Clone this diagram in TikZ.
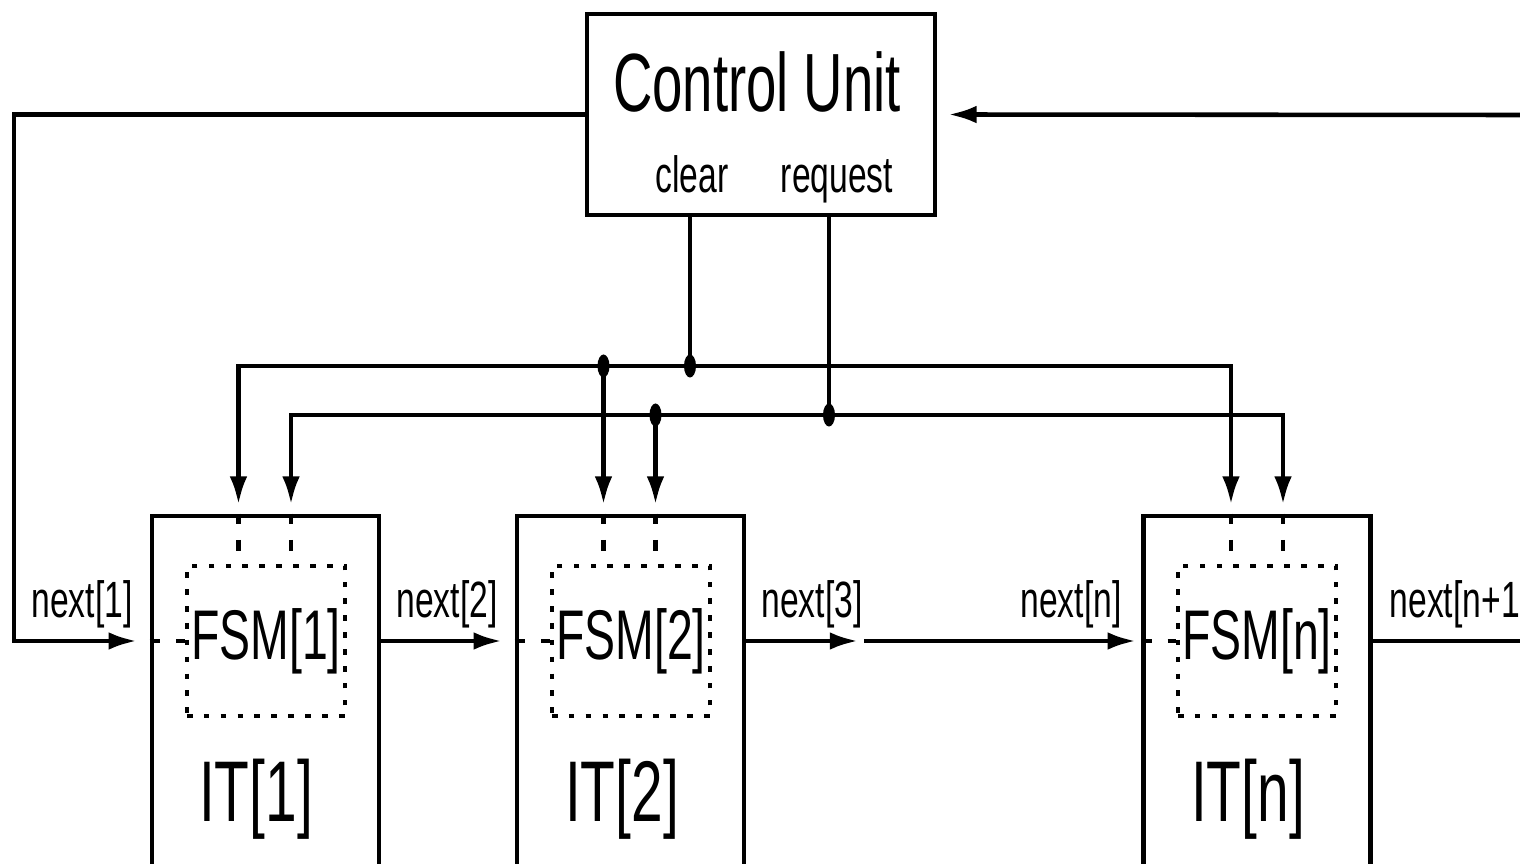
\documentclass[tikz,border=0pt]{standalone}
\usepackage{fontspec}
\setmainfont{Liberation Sans}
\usepackage{graphicx}
\usetikzlibrary{arrows.meta,positioning,shapes.geometric}
\newcommand{\narrow}[1]{\scalebox{0.66}[1]{#1}}
\tikzset{
  box/.style={draw,line width=1.3pt,inner sep=0pt},
  fsmbox/.style={draw,line width=1.2pt,dash pattern=on 1.6pt off 3.2pt,inner sep=0pt,minimum width=1.58cm,minimum height=1.5cm,font=\fontsize{20}{21}\selectfont},
  arr/.style={-{Latex[length=8pt,width=5pt]},line width=1.3pt},
  wire/.style={line width=1.3pt},
  stub/.style={line width=1.2pt,dash pattern=on 3pt off 4.5pt},
  junc/.style={ellipse,fill,inner sep=0pt,minimum width=1.2mm,minimum height=2.3mm},
  lbl/.style={font=\fontsize{14.5}{16}\selectfont,inner sep=0pt,anchor=base},
  itlbl/.style={font=\fontsize{24.5}{26}\selectfont,inner sep=0pt,anchor=base},
}

\begin{document}
\begin{tikzpicture}[x=0.01cm,y=-0.01cm]
\useasboundingbox (0,0) rectangle (1520,864);
\clip (0,0) rectangle (1520,864);
% control unit
\node[box,minimum width=3.48cm,minimum height=2.01cm] (cu) at (761,114.5) {};
\node[font=\fontsize{23.5}{25}\selectfont,inner sep=0pt,anchor=base] (cuname) at (757,112) {\narrow{Control Unit}};
\node[lbl] (clr) at (692,193) {\narrow{clear}};
\node[lbl] (req) at (837,193) {\narrow{request}};
% units
\node[box,minimum width=2.27cm,minimum height=4cm] (it1) at (265.5,716) {};
\node[box,minimum width=2.27cm,minimum height=4cm] (it2) at (630.5,716) {};
\node[box,minimum width=2.27cm,minimum height=4cm] (itn) at (1257,716) {};
\node[fsmbox] (fsm1) at (266,641) {\narrow{FSM[1]}};
\node[fsmbox] (fsm2) at (631,641) {\narrow{FSM[2]}};
\node[fsmbox] (fsmn) at (1257,641) {\narrow{FSM[n]}};
\node[itlbl] (itl1) at (256,822) {\narrow{IT[1]}};
\node[itlbl] (itl2) at (622,822) {\narrow{IT[2]}};
\node[itlbl] (itln) at (1248,822) {\narrow{IT[n]}};
% junctions
\node[junc] (jc) at (690,366) {};
\node[junc] (jr) at (829,415) {};
\node[junc] (j2c) at (603.5,366) {};
\node[junc] (j2r) at (655.5,415) {};
\coordinate (loopl) at (14,641);
\coordinate (loopr) at (1520,115);
\coordinate (n3) at (858,641);
\coordinate (nout) at (1520,641);
% control lines
\draw[wire] (cu.south -| jc) -- (jc.center);
\draw[wire] (cu.south -| jr) -- (jr.center);
\draw[arr,shorten >=0.09cm] (jc.center) -| ([xshift=-0.27cm]it1.north);
\draw[arr,shorten >=0.09cm] (jc.center) -| ([xshift=-0.26cm]itn.north);
\draw[arr,shorten >=0.09cm] (jr.center) -| ([xshift=0.255cm]it1.north);
\draw[arr,shorten >=0.09cm] (jr.center) -| ([xshift=0.26cm]itn.north);
\draw[arr,shorten >=0.09cm] (j2c.center) -- (j2c.center |- it2.north);
\draw[arr,shorten >=0.09cm] (j2r.center) -- (j2r.center |- it2.north);
% stubs inside the units
\draw[stub] ([xshift=-0.27cm]it1.north) -- ([xshift=-0.27cm]it1.north |- fsm1.north);
\draw[stub] ([xshift=0.255cm]it1.north) -- ([xshift=0.255cm]it1.north |- fsm1.north);
\draw[stub] (j2c.center |- it2.north) -- (j2c.center |- fsm2.north);
\draw[stub] (j2r.center |- it2.north) -- (j2r.center |- fsm2.north);
\draw[stub] ([xshift=-0.26cm]itn.north) -- ([xshift=-0.26cm]itn.north |- fsmn.north);
\draw[stub] ([xshift=0.26cm]itn.north) -- ([xshift=0.26cm]itn.north |- fsmn.north);
\draw[stub] (fsm1.west -| it1.west) -- (fsm1.west);
\draw[stub] (fsm2.west -| it2.west) -- (fsm2.west);
\draw[stub] (fsmn.west -| itn.west) -- (fsmn.west);
% next chain
\draw[arr,shorten >=0.48cm] (cu.west) -| (loopl) -- (fsm1.west);
\draw[arr,shorten >=0.11cm] (loopr) -- (cu.east);
\draw[arr,shorten >=0.48cm] (fsm1.west -| it1.east) -- (fsm2.west);
\draw[arr] (fsm2.west -| it2.east) -- (n3);
\draw[arr,shorten >=0.4cm] ([xshift=0.06cm]n3) -- (fsmn.west);
\draw[wire] (fsmn.west -| itn.east) -- (nout);
\node[lbl] (nx1) at (82,618) {\narrow{next[1]}};
\node[lbl] (nx2) at (447,618) {\narrow{next[2]}};
\node[lbl] (nx3) at (812,618) {\narrow{next[3]}};
\node[lbl] (nxn) at (1071,618) {\narrow{next[n]}};
\node[lbl,anchor=base west] (nxo) at (1389,618) {\narrow{next[n+1}};
\end{tikzpicture}
\end{document}
